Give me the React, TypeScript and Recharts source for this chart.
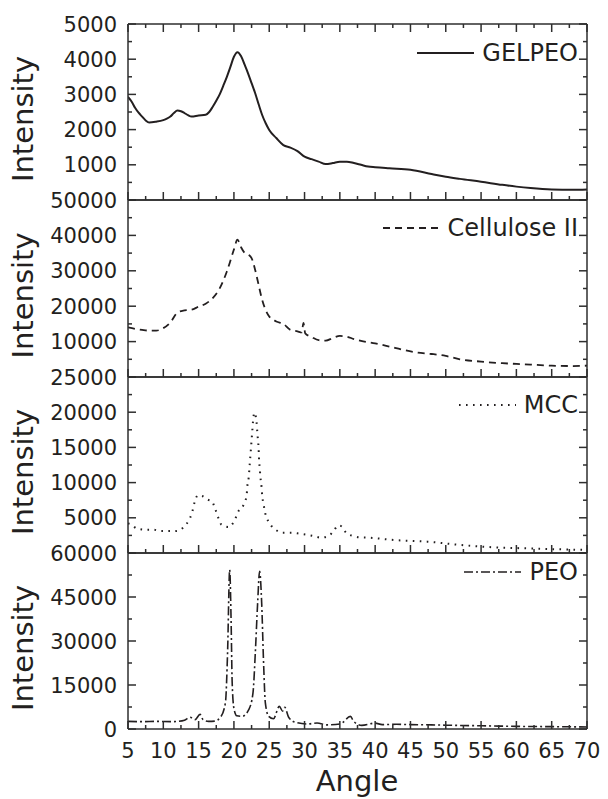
import React from 'react';
import { LineChart, Line, XAxis, YAxis, Legend } from 'recharts';

// angle, intensity pairs
const GELPEO: [number, number][] = [
  [5, 2930], [5.5, 2800], [6, 2620], [6.5, 2480], [7, 2370], [7.5, 2260], [8, 2200], [9, 2225],
  [10, 2270], [10.5, 2310], [11, 2370], [11.5, 2470], [12, 2540], [12.5, 2520], [13, 2470],
  [13.5, 2410], [14, 2370], [15, 2400], [16, 2420], [16.5, 2500], [17, 2650], [17.5, 2820],
  [18, 3010], [18.5, 3250], [19, 3500], [19.5, 3780], [20, 4070], [20.5, 4200], [21, 4090],
  [21.5, 3850], [22, 3600], [22.5, 3320], [23, 3040], [23.5, 2720], [24, 2415], [24.5, 2180],
  [25, 1990], [26, 1760], [27, 1560], [28, 1490], [29, 1390], [30, 1230], [31, 1160], [32, 1090],
  [33, 1020], [34, 1050], [35, 1090], [36, 1090], [37, 1050], [38, 1000], [39, 950], [40, 930],
  [42, 900], [45, 860], [48, 740], [50, 660], [52, 600], [55, 520], [58, 430], [60, 380],
  [62, 340], [65, 300], [68, 290], [70, 300],
];

const CELLULOSE: [number, number][] = [
  [5, 14000], [6, 13600], [7, 13300], [8, 13100], [9, 13100], [10, 13800], [11, 15400],
  [12, 18200], [13, 18800], [14, 19000], [15, 19900], [16, 20700], [17, 22300], [18, 25100],
  [19, 29800], [20, 36000], [20.5, 38800], [21, 36700], [21.5, 35100], [22, 34600], [22.5, 33600],
  [23, 30300], [23.5, 26000], [24, 21800], [24.5, 18900], [25, 17100], [26, 15700], [27, 15000],
  [28, 13300], [29, 12900], [29.6, 12600], [29.85, 15300], [30.1, 12300], [31, 11300],
  [32, 10400], [33, 10300], [34, 11000], [35, 11600], [36, 11400], [37, 10700], [38, 10200],
  [40, 9500], [42, 8600], [44, 7650], [46, 6900], [48, 6500], [50, 5950], [52, 5000], [55, 4350],
  [58, 3900], [60, 3700], [62, 3500], [65, 3200], [68, 3100], [70, 3200],
];

const MCC: [number, number][] = [
  [5, 4200], [5.2, 4160], [6.3, 3460], [7.5, 3310], [8.6, 3310], [9.6, 3120], [10.6, 3120],
  [11.7, 3120], [12.8, 3600], [13.6, 4640], [14.1, 5820], [14.4, 7100], [14.9, 8190],
  [15.5, 8090], [16.3, 7570], [16.9, 7340], [17.3, 6390], [17.75, 5110], [18.2, 4070],
  [19.2, 3690], [20.1, 4640], [20.6, 5870], [21.4, 6910], [21.8, 8190], [21.9, 9470],
  [22.1, 10800], [22.2, 12120], [22.3, 13400], [22.4, 14670], [22.5, 16000], [22.6, 17320],
  [22.7, 18650], [22.9, 19930], [23.2, 18650], [23.3, 17320], [23.4, 16090], [23.5, 14770],
  [23.55, 13440], [23.65, 12120], [23.75, 10800], [23.9, 9510], [24, 8190], [24.2, 6910],
  [24.45, 5590], [25, 4310], [25.9, 3310], [26.9, 2890], [28.1, 2890], [29.3, 2750],
  [30.3, 2600], [31.3, 2410], [32.3, 2180], [33.4, 2410], [34.1, 3120], [34.8, 3930],
  [35.3, 3740], [35.9, 2840], [36.9, 2410], [37.8, 2230], [39, 2180], [42.6, 1850],
  [47.4, 1610], [52.1, 1140], [56.8, 810], [61.5, 660], [66.2, 520], [70, 430],
];

const PEO: [number, number][] = [
  [5, 2600], [7, 2500], [9, 2600], [11, 2500], [12, 2600], [13, 3000], [13.8, 4000], [14.5, 3200],
  [15.2, 5000], [15.6, 3300], [16.4, 2600], [17.3, 2700], [18.1, 4000], [18.8, 9000],
  [19.1, 26000], [19.4, 54300], [19.6, 37000], [19.75, 16000], [20, 7000], [20.4, 4500],
  [21.15, 4300], [22.1, 6600], [22.7, 12300], [23.03, 26000], [23.36, 43000], [23.64, 53800],
  [23.93, 43000], [24.2, 22500], [24.45, 8900], [24.92, 4300], [25.6, 3500], [26.43, 7700],
  [26.9, 6100], [27.2, 7400], [27.75, 4000], [28.7, 2300], [30.36, 1700], [31.77, 2050],
  [33.2, 1400], [35.06, 1700], [36.5, 4300], [36.96, 2600], [38.1, 1250], [40, 2000],
  [41, 1500], [43, 1600], [45, 1500], [48, 1400], [50, 1300], [55, 1100], [60, 900],
  [65, 800], [70, 700],
];

const ANGLE_TICKS = [
  5, 7.5, 10, 12.5, 15, 17.5, 20, 22.5, 25, 27.5, 30, 32.5, 35, 37.5, 40, 42.5, 45, 47.5,
  50, 52.5, 55, 57.5, 60, 62.5, 65, 67.5, 70,
];

const GELPEO_TICKS = [0, 500, 1000, 1500, 2000, 2500, 3000, 3500, 4000, 4500, 5000];
const GELPEO_LABELS = [1000, 2000, 3000, 4000, 5000];
const CELLULOSE_TICKS = [0, 5000, 10000, 15000, 20000, 25000, 30000, 35000, 40000, 45000, 50000];
const CELLULOSE_LABELS = [10000, 20000, 30000, 40000, 50000];
const MCC_TICKS = [0, 2500, 5000, 7500, 10000, 12500, 15000, 17500, 20000, 22500, 25000];
const MCC_LABELS = [5000, 10000, 15000, 20000, 25000];
const PEO_TICKS = [0, 7500, 15000, 22500, 30000, 37500, 45000, 52500, 60000];
const PEO_LABELS = [0, 15000, 30000, 45000, 60000];

const FRAME = '#2e2e2e';
const INK = '#231f20';
const FONT = '"DejaVu Sans", Arial, sans-serif';
const PAD = 20;

const panels = [
  { name: 'GELPEO', data: GELPEO, max: 5000, ticks: GELPEO_TICKS, labels: GELPEO_LABELS, major: 1000, dash: undefined, width: 2, top: 24, height: 176, legendY: 28.5, topTicks: true },
  { name: 'Cellulose II', data: CELLULOSE, max: 50000, ticks: CELLULOSE_TICKS, labels: CELLULOSE_LABELS, major: 10000, dash: '7 5', width: 1.8, top: 200, height: 177, legendY: 28, topTicks: false },
  { name: 'MCC', data: MCC, max: 25000, ticks: MCC_TICKS, labels: MCC_LABELS, major: 5000, dash: '1.6 5.4', width: 2, top: 377, height: 176, legendY: 28, topTicks: false },
  { name: 'PEO', data: PEO, max: 60000, ticks: PEO_TICKS, labels: PEO_LABELS, major: 15000, dash: '9 3 2 3', width: 1.6, top: 553, height: 176, legendY: 19, topTicks: false },
];

const XTick = ({ x, y, payload, side, showLabel, showTick }: any) => {
  const major = payload.value % 5 === 0;
  const len = major ? 8 : 4;
  const dir = side === 'bottom' ? -1 : 1;
  return (
    <g>
      {showTick && <line x1={x} x2={x} y1={y} y2={y + dir * len} stroke={FRAME} strokeWidth={1.5} />}
      {showLabel && major && (
        <text x={x} y={y + 29} textAnchor="middle" fontFamily={FONT} fontSize={21} fill={INK}>
          {payload.value}
        </text>
      )}
    </g>
  );
};

const YTick = ({ x, y, payload, side, labels, major }: any) => {
  const isMajor = payload.value % major === 0;
  const len = isMajor ? 8 : 4;
  const dir = side === 'left' ? 1 : -1;
  return (
    <g>
      <line x1={x} x2={x + dir * len} y1={y} y2={y} stroke={FRAME} strokeWidth={1.5} />
      {side === 'left' && labels.includes(payload.value) && (
        <text x={x - 11} y={y} dy="0.36em" textAnchor="end" fontFamily={FONT} fontSize={21} fill={INK}>
          {payload.value}
        </text>
      )}
    </g>
  );
};

const LegendRow = ({ name, dash, width }: any) => (
  <div style={{ display: 'flex', justifyContent: 'flex-end', alignItems: 'center', height: 30 }}>
    <svg width={57} height={6} style={{ marginRight: 8 }}>
      <line x1={0} x2={57} y1={3} y2={3} stroke={INK} strokeWidth={width} strokeDasharray={dash} />
    </svg>
    <span style={{ fontFamily: FONT, fontSize: 24, lineHeight: '30px', color: INK }}>{name}</span>
  </div>
);

export default function App() {
  return (
    <div style={{ position: 'absolute', left: 0, top: 0, width: 608, height: 799, background: '#fff' }}>
      {panels.map((p, i) => {
        const last = i === panels.length - 1;
        const bottomPad = last ? 70 : PAD;
        const data = p.data.map(([angle, value]) => ({ angle, value }));
        return (
          <div key={p.name} style={{ position: 'absolute', left: 0, top: p.top - PAD }}>
            <LineChart
              width={608}
              height={p.height + PAD + bottomPad}
              data={data}
              margin={{ top: PAD - 1, right: 20, bottom: bottomPad - 1, left: 0 }}
            >
              <XAxis
                dataKey="angle"
                type="number"
                domain={[5, 70]}
                allowDataOverflow
                ticks={ANGLE_TICKS}
                interval={0}
                height={1}
                tickSize={0}
                tickMargin={0}
                tickLine={false}
                axisLine={{ stroke: FRAME, strokeWidth: 1.5 }}
                tick={(t: any) => <XTick {...t} side="bottom" showTick showLabel={last} />}
                label={
                  last
                    ? () => (
                        <text x={357} y={PAD + p.height + 62} textAnchor="middle" fontFamily={FONT} fontSize={29} fill={INK}>
                          Angle
                        </text>
                      )
                    : undefined
                }
              />
              <XAxis
                xAxisId="top"
                orientation="top"
                dataKey="angle"
                type="number"
                domain={[5, 70]}
                allowDataOverflow
                ticks={ANGLE_TICKS}
                interval={0}
                height={1}
                tickSize={0}
                tickMargin={0}
                tickLine={false}
                axisLine={{ stroke: FRAME, strokeWidth: 1.5 }}
                tick={(t: any) => <XTick {...t} side="top" showTick={p.topTicks} showLabel={false} />}
              />
              <YAxis
                type="number"
                domain={[0, p.max]}
                allowDataOverflow
                ticks={p.ticks}
                interval={0}
                width={128}
                tickSize={0}
                tickMargin={0}
                tickLine={false}
                axisLine={{ stroke: FRAME, strokeWidth: 1.5 }}
                tick={(t: any) => <YTick {...t} side="left" labels={p.labels} major={p.major} />}
                label={() => (
                  <text
                    x={33}
                    y={PAD + p.height / 2 + 7}
                    transform={`rotate(-90 33 ${PAD + p.height / 2 + 7})`}
                    textAnchor="middle"
                    fontFamily={FONT}
                    fontSize={29}
                    fill={INK}
                  >
                    Intensity
                  </text>
                )}
              />
              <YAxis
                yAxisId="right"
                orientation="right"
                type="number"
                domain={[0, p.max]}
                allowDataOverflow
                ticks={p.ticks}
                interval={0}
                width={1}
                tickSize={0}
                tickMargin={0}
                tickLine={false}
                axisLine={{ stroke: FRAME, strokeWidth: 1.5 }}
                tick={(t: any) => <YTick {...t} side="right" labels={p.labels} major={p.major} />}
              />
              <Legend
                layout="horizontal"
                verticalAlign="middle"
                align="center"
                wrapperStyle={{ left: 0, top: PAD + p.legendY - 15, width: 578, height: 30 }}
                content={() => <LegendRow name={p.name} dash={p.dash} width={p.width} />}
              />
              <Line
                type="monotone"
                dataKey="value"
                stroke={INK}
                strokeWidth={p.width}
                strokeDasharray={p.dash}
                dot={false}
                activeDot={false}
                isAnimationActive={false}
              />
            </LineChart>
          </div>
        );
      })}
    </div>
  );
}
